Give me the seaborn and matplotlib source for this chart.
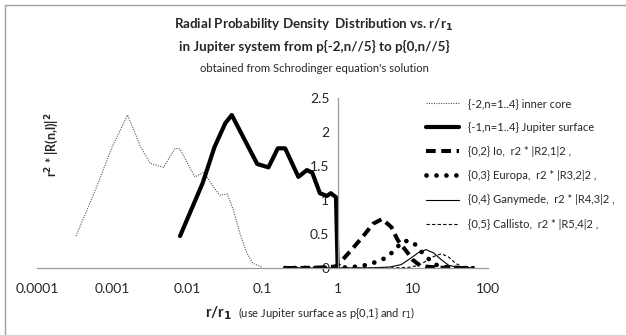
import matplotlib
matplotlib.use("Agg")
import matplotlib.pyplot as plt
import matplotlib.patches as mpatches
import seaborn as sns
import pandas as pd

# values (x = r/r1, y = r^2 * |R(n,l)|^2)
inner_x = [0.00033, 0.0006, 0.001, 0.0016, 0.0024, 0.0032, 0.0048, 0.0069, 0.008,
           0.0105, 0.0126, 0.0166, 0.022, 0.027, 0.034, 0.041, 0.05, 0.062, 0.074, 0.1]
inner_y = [0.47, 1.15, 1.78, 2.25, 1.78, 1.54, 1.48, 1.76, 1.75,
           1.5, 1.34, 1.41, 1.2, 1.07, 1.09, 0.85, 0.51, 0.22, 0.07, 0.01]

jup_x = [0.008, 0.016, 0.023, 0.032, 0.039, 0.085, 0.12, 0.16, 0.20, 0.30, 0.39,
         0.46, 0.58, 0.72, 0.81, 0.95, 1.0]
jup_y = [0.47, 1.25, 1.78, 2.13, 2.25, 1.53, 1.48, 1.76, 1.76, 1.34, 1.44,
         1.40, 1.10, 1.06, 1.10, 1.04, 0.0]

io_x = [0.2, 0.3, 0.5, 0.7, 0.9, 1.0, 1.45, 2.16, 2.95, 3.9, 5.2, 6.3, 8.3, 10, 12,
        15, 20, 30, 45, 66]
io_y = [0, 0, 0.005, 0.01, 0.02, 0.04, 0.24, 0.46, 0.65, 0.72, 0.60, 0.41, 0.24, 0.12,
        0.05, 0.02, 0.01, 0, 0, 0]

eur_x = [0.2, 0.5, 1, 1.5, 2.3, 3.3, 4.6, 6.0, 7.3, 9, 10.3, 12, 14, 16.7, 20, 25, 30,
         45, 66]
eur_y = [0, 0, 0.005, 0.01, 0.04, 0.09, 0.16, 0.29, 0.39, 0.40, 0.37, 0.28, 0.2, 0.12,
         0.05, 0.02, 0.01, 0, 0]

gan_x = [0.2, 1, 3, 5, 7, 9, 12, 15, 19, 24, 30, 40, 66]
gan_y = [0, 0, 0.003, 0.015, 0.05, 0.13, 0.23, 0.27, 0.22, 0.12, 0.04, 0.01, 0]

cal_x = [0.2, 1, 5, 9, 12, 15, 19, 24, 30, 37, 45, 66]
cal_y = [0, 0, 0, 0.01, 0.04, 0.1, 0.17, 0.21, 0.16, 0.07, 0.02, 0]

labels = ["{-2,n=1..4} inner core",
          "{-1,n=1..4} Jupiter surface",
          "{0,2} Io,  r2 * |R2,1|2 ,",
          "{0,3} Europa,  r2 * |R3,2|2 ,",
          "{0,4} Ganymede,  r2 * |R4,3|2 ,",
          "{0,5} Callisto,  r2 * |R5,4|2 ,"]

xticks = [0.0001, 0.001, 0.01, 0.1, 1, 10, 100]
xtick_labels = ["0.0001", "0.001", "0.01", "0.1", "1", "10", "100"]
yticks = [0, 0.5, 1, 1.5, 2, 2.5]
ytick_labels = ["0", "0.5", "1", "1.5", "2", "2.5"]

sns.set_style("white")
plt.rcParams["font.family"] = ["Lato", "DejaVu Sans"]

W, H = 626, 335
fig = plt.figure(figsize=(W / 100, H / 100), dpi=100)
ax = fig.add_axes([37 / W, (H - 268) / H, 451 / W, 170 / H])

series = [
    (inner_x, inner_y, dict(color="#555555", lw=0.8, linestyle=(0, (1, 1.2)))),
    (jup_x, jup_y, dict(color="black", lw=3.0, linestyle="-")),
    (io_x, io_y, dict(color="black", lw=2.9, linestyle=(0, (2.4, 1.4)))),
    (eur_x, eur_y, dict(color="black", lw=3.4, linestyle=(0, (0.01, 2.1)),
                        dash_capstyle="round")),
    (gan_x, gan_y, dict(color="black", lw=0.8, linestyle="-")),
    (cal_x, cal_y, dict(color="black", lw=0.8, linestyle=(0, (3, 2)))),
]
for (xs, ys, style), lab in zip(series, labels):
    df = pd.DataFrame({"x": xs, "y": ys})
    sns.lineplot(data=df, x="x", y="y", ax=ax, sort=False, estimator=None,
                 label=lab, **style)

ax.set_xscale("log")
ax.set_xlim(1e-4, 100)
ax.set_ylim(0, 2.5)
ax.set_xticks(xticks)
ax.set_xticklabels(xtick_labels)
ax.minorticks_off()
ax.set_yticks(yticks)
ax.set_yticklabels(ytick_labels)
ax.set_xlabel("")
ax.set_ylabel("")

for s in ["top", "right"]:
    ax.spines[s].set_visible(False)
ax.spines["left"].set_position(("data", 1))
for s in ["left", "bottom"]:
    ax.spines[s].set_color("#9a9a9a")
    ax.spines[s].set_linewidth(0.9)
ax.tick_params(axis="x", direction="out", length=5, width=0.9, color="#9a9a9a",
               labelsize=10, pad=6)
ax.tick_params(axis="y", direction="out", length=3, width=0.9, color="#9a9a9a",
               labelsize=10, pad=3)

leg = ax.legend(loc="upper left", bbox_to_anchor=(426 / W, 1 - 98 / H),
                bbox_transform=fig.transFigure, frameon=False, fontsize=8,
                handlelength=3.0, handletextpad=0.8, labelspacing=1.18,
                borderaxespad=0, borderpad=0)

fig.text(314 / W, 1 - 25 / H, "Radial Probability Density  Distribution vs. r/r$_\\mathbf{1}$",
         ha="center", va="center", fontsize=9.6, fontweight="bold")
fig.text(314 / W, 1 - 46 / H, "in Jupiter system from p{-2,n//5} to p{0,n//5}",
         ha="center", va="center", fontsize=9.6, fontweight="bold")
fig.text(314 / W, 1 - 68 / H, "obtained from Schrodinger equation's solution",
         ha="center", va="center", fontsize=8.1)

fig.text(52 / W, 1 - 145 / H, "r$^\\mathbf{2}$ * |R(n,l)|$^\\mathbf{2}$", rotation=90,
         ha="center", va="center", fontsize=9, fontweight="bold")
fig.text(205 / W, 1 - 313 / H, "r/r$_\\mathbf{1}$", ha="left", va="center",
         fontsize=11, fontweight="bold")
fig.text(238 / W, 1 - 313 / H, "(use Jupiter surface as p{0,1} and r$_1$)",
         ha="left", va="center", fontsize=8)

# chart frame
fig.patches.append(mpatches.Rectangle((5 / W, -0.1), 1.2, 1 - 5 / H + 0.1,
                                      transform=fig.transFigure, fill=False,
                                      edgecolor="#a0a0a0", lw=1.0))

fig.savefig("out.png", dpi=100)
